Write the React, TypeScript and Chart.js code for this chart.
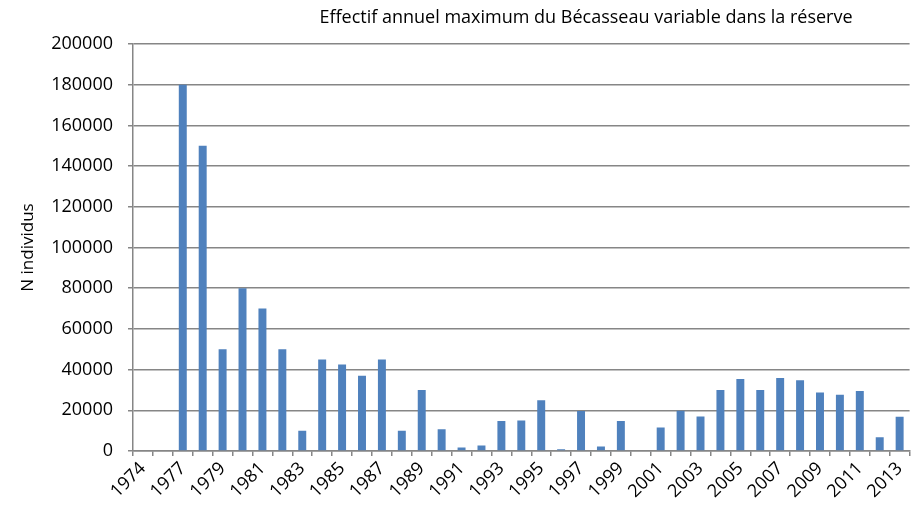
import React, { useEffect, useRef } from "react";
import { Chart, registerables } from "chart.js";

Chart.register(...registerables);

const years = [
  "1974", "1975", "1977", "1978", "1979", "1980", "1981", "1982", "1983", "1984",
  "1985", "1986", "1987", "1988", "1989", "1990", "1991", "1992", "1993", "1994",
  "1995", "1996", "1997", "1998", "1999", "2000", "2001", "2002", "2003", "2004",
  "2005", "2006", "2007", "2008", "2009", "2010", "2011", "2012", "2013",
];

const counts: (number | null)[] = [
  null, null, 180000, 150000, 50000, 80000, 70000, 50000, 10000, 45000,
  42500, 37000, 45000, 10000, 30000, 10700, 1700, 2700, 14700, 15000,
  25000, 900, 19700, 2200, 14700, 0, 11600, 19800, 16900, 30000,
  35400, 30000, 35900, 34800, 28800, 27700, 29500, 6800, 16800,
];

const titleText = "Effectif annuel maximum du Bécasseau variable dans la réserve";
const yTitle = "N individus";

const FONT = "'Open Sans', 'DejaVu Sans', sans-serif";
const GRID = "#868686";

export default function App() {
  const ref = useRef<HTMLCanvasElement | null>(null);

  useEffect(() => {
    document.body.style.margin = "0";
    const canvas = ref.current;
    if (!canvas) return;

    const titlePlugin = {
      id: "customTitle",
      afterDraw(chart: any) {
        const ctx = chart.ctx;
        ctx.save();
        ctx.font = `18px ${FONT}`;
        ctx.fillStyle = "#000";
        ctx.textAlign = "center";
        ctx.textBaseline = "middle";
        ctx.fillText(titleText, 586, 18);
        ctx.restore();
      },
    };

    const chart = new Chart(canvas, {
      type: "bar",
      data: {
        labels: years,
        datasets: [
          {
            data: counts,
            backgroundColor: "#4F81BD",
            borderWidth: 0,
            barPercentage: 0.4,
            categoryPercentage: 1.0,
          },
        ],
      },
      plugins: [titlePlugin],
      options: {
        responsive: false,
        animation: false,
        devicePixelRatio: 1,
        layout: { padding: { top: 44, right: 7, left: 0, bottom: 0 } },
        plugins: {
          legend: { display: false },
          title: { display: false },
          tooltip: { enabled: false },
        },
        scales: {
          x: {
            offset: true,
            grid: {
              offset: true,
              drawOnChartArea: false,
              drawTicks: true,
              tickLength: 5,
              color: GRID,
              lineWidth: 1.5,
            },
            border: { color: GRID, width: 1.5 },
            ticks: {
              autoSkip: false,
              maxRotation: 45,
              minRotation: 45,
              padding: 2,
              color: "#000",
              font: { family: FONT, size: 18 },
              callback: (_v: any, i: number) => (i % 2 === 0 ? years[i] : ""),
            },
            afterFit: (scale: any) => {
              scale.height = 57;
            },
          },
          y: {
            min: 0,
            max: 200000,
            grid: {
              color: GRID,
              lineWidth: 1.5,
              drawTicks: true,
              tickLength: 5,
            },
            border: { color: GRID, width: 1.5 },
            ticks: {
              stepSize: 20000,
              padding: 15,
              color: "#000",
              font: { family: FONT, size: 18 },
              callback: (v: any) => String(v),
            },
            title: {
              display: true,
              text: yTitle,
              color: "#000",
              font: { family: FONT, size: 17 },
              padding: { top: 18, bottom: 0 },
            },
            afterFit: (scale: any) => {
              scale.width = 133;
            },
          },
        },
      },
    });

    return () => chart.destroy();
  }, []);

  return (
    <div style={{ width: 917, height: 508 }}>
      <canvas ref={ref} width={917} height={508} style={{ display: "block" }} />
    </div>
  );
}
